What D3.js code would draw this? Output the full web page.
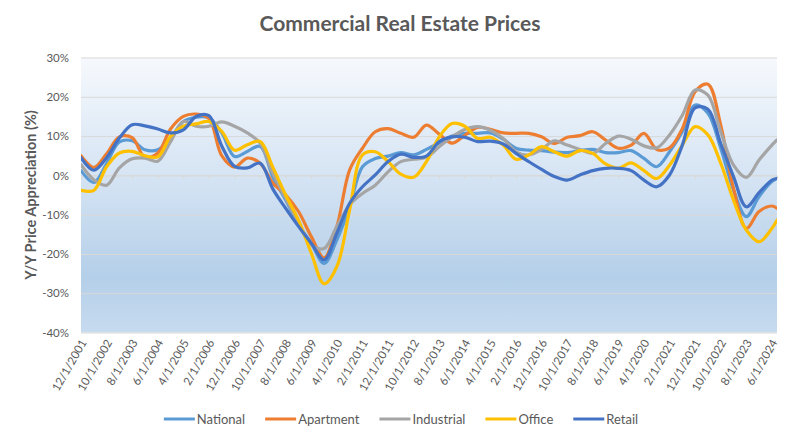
<!DOCTYPE html>
<html><head><meta charset="utf-8">
<script src="https://cdn.jsdelivr.net/npm/d3@7"></script>
<style>
body{margin:0;background:#fff;}
text{font-family:Lato,"Open Sans",sans-serif;}
</style>
</head><body>
<svg id="chart" width="800" height="442"></svg>
<script>
// ---- data ----
const dates = ["12/1/2001","5/1/2002","10/1/2002","3/1/2003","8/1/2003","1/1/2004","6/1/2004","11/1/2004",
"4/1/2005","9/1/2005","2/1/2006","7/1/2006","12/1/2006","5/1/2007","10/1/2007","3/1/2008","8/1/2008","1/1/2009",
"6/1/2009","11/1/2009","4/1/2010","9/1/2010","2/1/2011","7/1/2011","12/1/2011","5/1/2012","10/1/2012","3/1/2013",
"8/1/2013","1/1/2014","6/1/2014","11/1/2014","4/1/2015","9/1/2015","2/1/2016","7/1/2016","12/1/2016","5/1/2017",
"10/1/2017","3/1/2018","8/1/2018","1/1/2019","6/1/2019","11/1/2019","4/1/2020","9/1/2020","2/1/2021","7/1/2021",
"12/1/2021","5/1/2022","10/1/2022","3/1/2023","8/1/2023","1/1/2024","6/1/2024","8/1/2024"];

const tickLabels = ["12/1/2001","10/1/2002","8/1/2003","6/1/2004","4/1/2005","2/1/2006","12/1/2006","10/1/2007",
"8/1/2008","6/1/2009","4/1/2010","2/1/2011","12/1/2011","10/1/2012","8/1/2013","6/1/2014","4/1/2015","2/1/2016",
"12/1/2016","10/1/2017","8/1/2018","6/1/2019","4/1/2020","2/1/2021","12/1/2021","10/1/2022","8/1/2023","6/1/2024"];

const seriesNames = ["National","Apartment","Industrial","Office","Retail"];

const national = [1.2,-1.8,3.0,8.5,8.8,6.5,6.5,9.5,13.7,14.8,14.6,10.8,4.8,6.1,7.4,-0.5,-6.3,-12.6,-17.3,-22.4,-16.4,-8.0,2.2,4.3,4.9,5.8,5.2,6.6,8.3,10.0,10.7,10.7,10.8,9.2,6.9,6.4,6.3,5.9,5.8,6.3,6.6,5.8,5.8,6.3,4.3,2.2,6.0,11.1,17.9,15.8,6.9,-3.7,-10.5,-5.4,-1.6,-0.8];
const apartment = [5.0,2.0,5.5,9.8,9.6,4.6,5.7,11.8,15.0,15.6,14.5,5.0,2.1,4.4,3.1,-2.0,-5.0,-9.2,-15.6,-21.0,-13.0,1.4,6.9,11.1,11.9,10.7,9.7,12.8,10.5,8.2,10.2,12.2,11.7,10.8,10.7,10.7,9.8,8.1,9.7,10.1,11.1,9.0,6.9,7.7,10.7,6.6,7.0,11.9,21.3,23.2,12.8,-3.3,-13.5,-9.2,-7.8,-8.4];
const industrial = [2.7,-1.1,-2.5,1.9,4.2,4.4,3.6,8.6,13.7,12.5,12.5,13.6,12.5,10.8,8.2,0.5,-5.8,-12.2,-17.7,-18.6,-13.0,-7.5,-4.6,-2.5,0.9,3.5,4.1,4.6,7.3,9.8,11.7,12.4,11.5,9.4,6.0,5.2,6.6,8.8,7.7,6.6,5.6,8.1,10.0,9.2,7.5,7.0,10.3,15.3,21.7,20.4,11.1,2.6,-0.5,3.9,7.7,9.0];
const office = [-3.8,-3.8,2.2,5.7,6.1,5.0,4.7,9.9,12.5,13.1,13.7,11.2,6.4,7.8,8.6,2.0,-5.0,-11.4,-19.8,-27.6,-23.2,-8.8,5.2,6.0,3.5,0.3,-0.5,3.5,9.8,13.2,12.5,9.4,9.7,7.7,4.1,5.2,7.3,6.0,4.9,6.3,5.6,2.9,1.8,3.2,1.2,-0.8,2.6,7.7,12.4,10.3,3.1,-6.3,-13.9,-16.9,-13.5,-11.4];
const retail = [4.5,1.3,4.5,9.5,12.9,12.6,11.8,10.8,11.6,15.0,15.2,7.5,2.3,1.9,3.1,-3.5,-8.4,-13.0,-17.3,-21.5,-14.7,-7.1,-2.9,0.1,3.5,5.4,4.6,4.9,8.6,9.8,9.7,8.6,8.7,8.0,5.6,3.5,1.5,-0.3,-1.2,0.1,1.2,1.8,1.8,1.2,-1.2,-2.9,0.1,7.7,17.2,16.8,8.1,-0.3,-8.0,-4.4,-1.2,-0.8];

const yTicks = [30,20,10,0,-10,-20,-30,-40];
const colors = ["#5b9bd5","#ed7d31","#a5a5a5","#ffc000","#4472c4"];

// ---- helpers ----
function monthIndex(s){ const p = s.split("/").map(Number); return (p[2]-2001)*12 + p[0] - 12; }
const mIdx = dates.map(monthIndex);
const allSeries = [national, apartment, industrial, office, retail];

const svg = d3.select("#chart");
const pL = 81, pR = 777, pT = 57.5, pB = 332.5;

const x = d3.scaleLinear().domain(d3.extent(mIdx)).range([pL, pR]);
const y = d3.scaleLinear().domain([d3.min(yTicks), d3.max(yTicks)]).range([pB, pT]);

// gradient background
const defs = svg.append("defs");
const g = defs.append("linearGradient").attr("id","bg").attr("x1",0).attr("y1",0).attr("x2",0).attr("y2",1);
g.append("stop").attr("offset","0%").attr("stop-color","#f6f9fd");
g.append("stop").attr("offset","45%").attr("stop-color","#d4e3f3");
g.append("stop").attr("offset","80%").attr("stop-color","#b4cfe9");
g.append("stop").attr("offset","100%").attr("stop-color","#c7dbef");

svg.append("rect").attr("x",pL).attr("y",pT).attr("width",pR-pL).attr("height",pB-pT).attr("fill","url(#bg)");

// title
svg.append("text").attr("x",400).attr("y",31).attr("text-anchor","middle")
  .attr("font-size",21).attr("font-weight","bold").attr("fill","#595959").text("Commercial Real Estate Prices");

// y axis gridlines + labels
const yAxis = d3.axisLeft(y).tickValues(yTicks).tickSize(-(pR-pL)).tickFormat(d => d + "%");
const ya = svg.append("g").attr("transform",`translate(${pL},0)`).call(yAxis);
ya.select(".domain").remove();
ya.selectAll(".tick line").attr("stroke","#d9d9d9").attr("stroke-width",1);
ya.selectAll(".tick text").attr("x",-12).attr("font-size",11.5).attr("fill","#595959").attr("font-family","Lato");

// tick marks on 0% line
const xTickVals = tickLabels.map(monthIndex);
const xa0 = svg.append("g").attr("transform",`translate(0,${y(0)})`)
  .call(d3.axisBottom(x).tickValues(xTickVals).tickSize(4).tickFormat(""));
xa0.select(".domain").attr("stroke","#d9d9d9");
xa0.selectAll(".tick line").attr("stroke","#d9d9d9");

// x labels at bottom
const labelMap = new Map(xTickVals.map((v,i)=>[v,tickLabels[i]]));
const xa = svg.append("g").attr("transform",`translate(0,${pB})`)
  .call(d3.axisBottom(x).tickValues(xTickVals).tickSize(0).tickFormat(d => labelMap.get(d)));
xa.select(".domain").remove();
xa.selectAll(".tick text")
  .attr("font-size",11.5).attr("fill","#595959").attr("font-family","Lato")
  .attr("text-anchor","end").attr("dy","0.35em").attr("y",0).attr("x",0)
  .attr("transform","translate(2,8) rotate(-60)");

// y axis title
svg.append("text").attr("transform",`translate(36,${(pT+pB)/2}) rotate(-90)`)
  .attr("text-anchor","middle").attr("font-size",14.5).attr("font-weight","bold").attr("fill","#595959")
  .text("Y/Y Price Appreciation (%)");

// lines
const line = d3.line().x((d,i)=>x(mIdx[i])).y(d=>y(d)).curve(d3.curveCatmullRom.alpha(0.5));
const clip = defs.append("clipPath").attr("id","clip");
clip.append("rect").attr("x",pL).attr("y",pT-5).attr("width",pR-pL).attr("height",pB-pT+10);
svg.append("g").attr("clip-path","url(#clip)").selectAll("path.series").data(allSeries).join("path")
  .attr("class","series").attr("d",d=>line(d)).attr("fill","none")
  .attr("stroke",(d,i)=>colors[i]).attr("stroke-width",3.2).attr("stroke-linejoin","round").attr("stroke-linecap","round");

// legend
const lg = svg.append("g");
let cx = 0;
seriesNames.forEach((n,i)=>{
  const it = lg.append("g").attr("transform",`translate(${cx},0)`);
  it.append("line").attr("x1",0).attr("x2",31).attr("y1",0).attr("y2",0).attr("stroke",colors[i]).attr("stroke-width",3);
  const t = it.append("text").attr("x",33).attr("y",0).attr("dy","0.35em").attr("font-size",13).attr("fill","#595959").text(n);
  cx += 33 + t.node().getComputedTextLength() + 20;
});
const lw = cx - 20;
lg.attr("transform",`translate(${400 - lw/2 + 1},419)`);
</script>
</body></html>
